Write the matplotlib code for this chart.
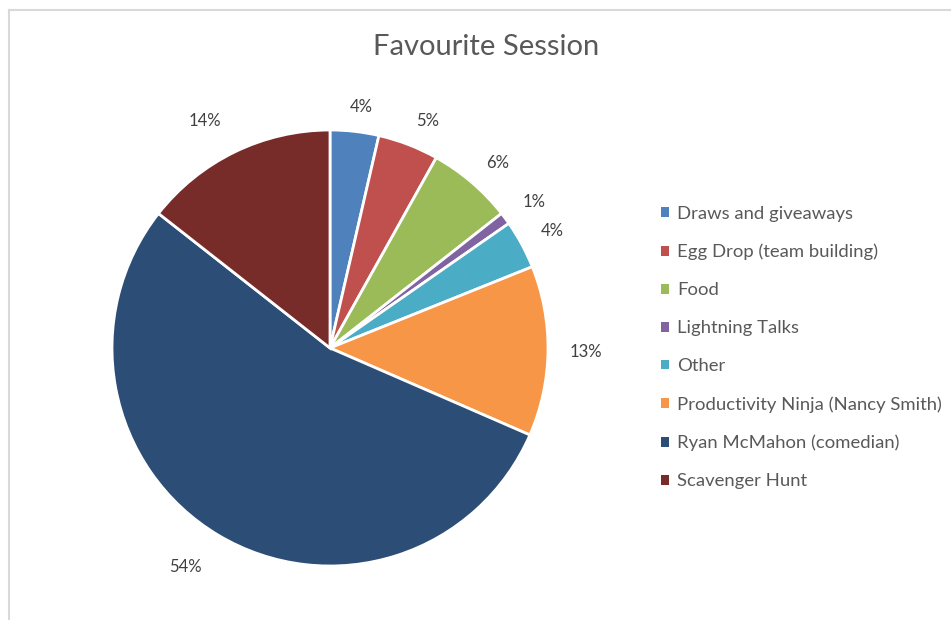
import numpy as np
import matplotlib.pyplot as plt
from matplotlib.lines import Line2D
from matplotlib.patches import Patch

plt.rcParams['font.family'] = ['Lato', 'DejaVu Sans']

# responses per session
sessions = ["Draws and giveaways", "Egg Drop (team building)", "Food", "Lightning Talks",
            "Other", "Productivity Ninja (Nancy Smith)", "Ryan McMahon (comedian)", "Scavenger Hunt"]
counts = [4, 5, 7, 1, 4, 14, 60, 16]
colors = ["#4F81BD", "#C0504D", "#9BBB59", "#8064A2", "#4BACC6", "#F79646", "#2C4D75", "#772C2A"]

W, H = 951, 620
fig = plt.figure(figsize=(W / 100, H / 100), dpi=100)

# chart area border (left and top edges visible)
fig.add_artist(Line2D([8.5 / W, 8.5 / W], [0, 1 - 9.5 / H], color="#D9D9D9", lw=1.5))
fig.add_artist(Line2D([8.5 / W, 1], [1 - 9.5 / H, 1 - 9.5 / H], color="#D9D9D9", lw=1.5))

cx, cy, r = 330, 348, 218
ax = fig.add_axes([(cx - r) / W, (H - cy - r) / H, 2 * r / W, 2 * r / H])
wedges, _, autotexts = ax.pie(counts, colors=colors, startangle=90, counterclock=False,
                              autopct="%.0f%%", pctdistance=1.1,
                              wedgeprops=dict(edgecolor="white", linewidth=2),
                              textprops=dict(color="#404040", fontsize=12))
ax.set_xlim(-1, 1)
ax.set_ylim(-1, 1)
ax.set_aspect("equal")

# outside-end labels: push each label out so its near edge sits just off the rim
renderer = fig.canvas.get_renderer()
for w, t in zip(wedges, autotexts):
    ang = np.deg2rad((w.theta1 + w.theta2) / 2)
    ux, uy = np.cos(ang), np.sin(ang)
    bb = t.get_window_extent(renderer)
    fx = np.clip(ux * 3.5, -1, 1)
    fy = np.clip(uy * 3.5, -1, 1) * 0.4
    d = 1.1 - 0.1 * min(ux, 0)
    t.set_position((d * ux + bb.width / 2 * fx / r, d * uy + bb.height / 2 * fy / r))
    t.set_ha("center")
    t.set_va("center")

fig.text(486 / W, 1 - 47 / H, "Favourite Session", ha="center", va="center",
         fontsize=21, color="#595959")

handles = [Patch(facecolor=c, edgecolor="none") for c in colors]
fig.legend(handles, sessions, loc="upper left", bbox_to_anchor=(644 / W, 1 - 189 / H),
           frameon=False, fontsize=13.3, labelcolor="#595959", handlelength=0.45,
           handleheight=0.45, handletextpad=0.45, labelspacing=1.19)

fig.savefig("out.png", dpi=100)
